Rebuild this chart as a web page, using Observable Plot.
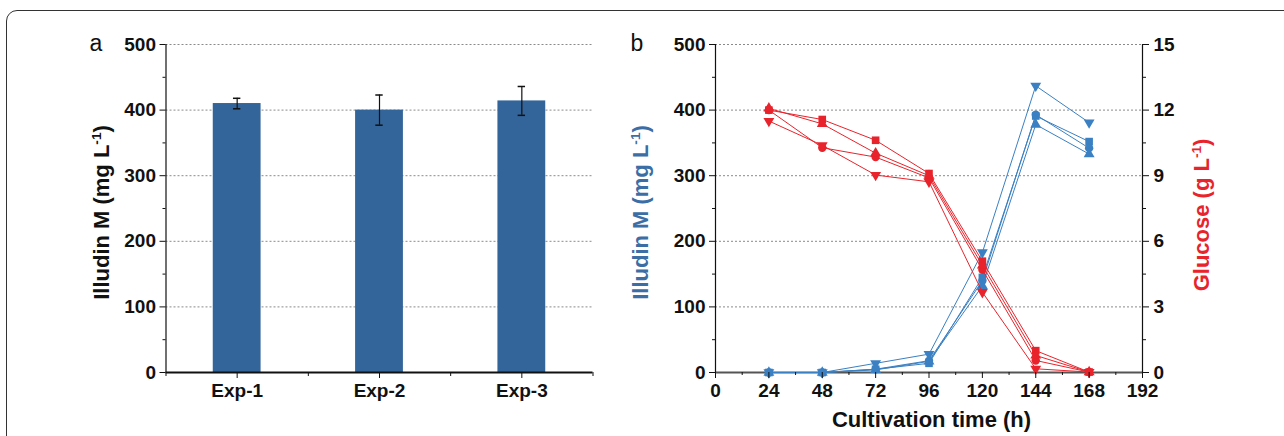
<!DOCTYPE html>
<html><head><meta charset="utf-8">
<script src="https://cdn.jsdelivr.net/npm/d3@7"></script>
<script src="https://cdn.jsdelivr.net/npm/@observablehq/plot@0.6"></script>
<style>
html,body{margin:0;padding:0;background:#fff;}
#wrap{position:relative;width:1284px;height:436px;overflow:hidden;background:#fff;}
#frame{position:absolute;left:6px;top:10px;width:1400px;height:600px;border:1.3px solid #333;border-radius:11px;}
.panel{position:absolute;top:0;}
</style></head><body>
<div id="wrap"><div id="frame"></div><div id="pa" class="panel" style="left:0px"></div><div id="pb" class="panel" style="left:620px"></div></div>
<script>
// ---------- Panel a data ----------
const expNames = ["Exp-1", "Exp-2", "Exp-3"];
const expMeans = [410, 400, 414];
const expErrors = [8, 23, 22];
const illudinTicks = [0, 100, 200, 300, 400, 500];
const illudinMinorTicks = [50, 150, 250, 350, 450];

// ---------- Panel b data ----------
const timesH = [24, 48, 72, 96, 120, 144, 168];
const timeTicks = [0, 24, 48, 72, 96, 120, 144, 168, 192];
const timeMinorTicks = [12, 36, 60, 84, 108, 132, 156, 180];
const glucoseTicks = [0, 3, 6, 9, 12, 15];
const replicateNames = ["square", "circle", "triangle", "triangleDown"];
const illudinSquare   = [0, 0, 5, 14, 145, 391, 352];
const illudinCircle   = [0, 0, 5, 18, 140, 393, 342];
const illudinTriUp    = [0, 0, 4, 17, 132, 378, 333];
const illudinTriDown  = [0, 0, 14, 28, 183, 437, 381];
const glucoseSquare   = [12.0, 11.57, 10.62, 9.10, 5.09, 1.0, 0.02];
const glucoseCircle   = [12.0, 10.28, 9.85, 8.90, 4.70, 0.55, 0.02];
const glucoseTriUp    = [12.08, 11.37, 10.03, 9.0, 4.90, 0.78, 0.02];
const glucoseTriDown  = [11.5, 10.39, 9.03, 8.72, 3.67, 0.17, 0.02];

// ---------- styles ----------
const FONT = '"Liberation Sans", Arial, Helvetica, sans-serif';
const BAR = "#33659a";
const BLUE = "#3a80c2";
const RED = "#e8232b";
const BLUE_TITLE = "#3c6ea6";
const GL = 500 / 15; // glucose -> left-axis units

const triDown = {
  draw(context, size) {
    const s = Math.sqrt(size) * 0.6824, t = s / 2, u = s * Math.sqrt(3) / 2;
    context.moveTo(0, s); context.lineTo(u, -t); context.lineTo(-u, -t); context.closePath();
  }
};
const triUp = {
  draw(context, size) {
    const s = Math.sqrt(size) * 0.6824, t = s / 2, u = s * Math.sqrt(3) / 2;
    context.moveTo(0, -s); context.lineTo(u, t); context.lineTo(-u, t); context.closePath();
  }
};
const symbolFor = {square: "square", circle: "circle", triangle: triUp, triangleDown: triDown};
const symbolR = {square: 4.3, circle: 4.2, triangle: 5.2, triangleDown: 5.2};

function addTitle(svg, x, y, main, sup, tail, color, size) {
  const t = d3.select(svg).append("text")
    .attr("transform", `translate(${x},${y}) rotate(-90)`)
    .attr("text-anchor", "middle")
    .attr("font-family", FONT).attr("font-weight", "bold").attr("font-size", size)
    .attr("fill", color);
  t.append("tspan").text(main);
  t.append("tspan").attr("dy", -8).attr("font-size", size * 0.62).text(sup);
  t.append("tspan").attr("dy", 8).text(tail);
}
function addLetter(svg, x, y, s) {
  d3.select(svg).append("text").attr("x", x).attr("y", y)
    .attr("font-family", FONT).attr("font-weight", "normal").attr("font-size", 23).attr("fill", "#111").text(s);
}

// ---------- Panel a ----------
const barRows = expNames.map((name, i) => ({pos: i + 1, name, mean: expMeans[i], err: expErrors[i]}));
const BAR_HALF = 0.168, CAP = 0.026;
const plotA = Plot.plot({
  width: 620, height: 436,
  marginLeft: 165.5, marginRight: 27.5, marginTop: 44, marginBottom: 64,
  style: {fontFamily: FONT, fontSize: "19px", fontWeight: "bold", color: "#111", background: "transparent", overflow: "visible"},
  x: {domain: [0.5, 3.5], axis: null},
  y: {domain: [0, 500], axis: null},
  marks: [
    Plot.gridY(illudinTicks.filter(d => d > 0), {stroke: "#8a8a8a", strokeOpacity: 1, strokeDasharray: "2,2", strokeWidth: 1}),
    Plot.rectY(barRows, {x1: d => d.pos - BAR_HALF, x2: d => d.pos + BAR_HALF, y: "mean", fill: BAR}),
    Plot.ruleX(barRows, {x: "pos", y1: d => d.mean - d.err, y2: d => d.mean + d.err, stroke: "#111", strokeWidth: 1.2}),
    Plot.ruleY(barRows, {y: d => d.mean + d.err, x1: d => d.pos - CAP, x2: d => d.pos + CAP, stroke: "#111", strokeWidth: 1.5}),
    Plot.ruleY(barRows, {y: d => d.mean - d.err, x1: d => d.pos - CAP, x2: d => d.pos + CAP, stroke: "#111", strokeWidth: 1.5}),
    Plot.axisY({ticks: illudinTicks, tickSize: 6, tickPadding: 4, label: null, stroke: "#111"}),
    Plot.axisY({ticks: illudinMinorTicks, tickSize: 3, tickFormat: () => "", label: null, stroke: "#111"}),
    Plot.axisX({ticks: [1, 2, 3], tickFormat: i => expNames[i - 1], tickSize: 6, tickPadding: 5, label: null, stroke: "#111"}),
    Plot.axisX({ticks: [0.5, 1.5, 2.5, 3.5], tickSize: 4, tickFormat: () => "", label: null, stroke: "#111"}),
    Plot.ruleX([0.5], {stroke: "#111", strokeWidth: 1.2}),
    Plot.ruleY([0], {stroke: "#111", strokeWidth: 2.2})
  ]
});
document.getElementById("pa").appendChild(plotA);
addTitle(plotA, 109, 212.5, "Illudin M (mg L", "-1", ")", "#111", 22);
addLetter(plotA, 96, 51, "a");

// ---------- Panel b ----------
const illSeries = [illudinSquare, illudinCircle, illudinTriUp, illudinTriDown];
const gluSeries = [glucoseSquare, glucoseCircle, glucoseTriUp, glucoseTriDown];
const illRows = [], gluRows = [];
replicateNames.forEach((rep, k) => {
  timesH.forEach((t, i) => {
    illRows.push({rep, t, v: illSeries[k][i]});
    gluRows.push({rep, t, g: gluSeries[k][i]});
  });
});
const dotMarks = (rows, yAcc, color) => replicateNames.map(rep =>
  Plot.dot(rows.filter(d => d.rep === rep), {x: "t", y: yAcc, symbol: symbolFor[rep], r: symbolR[rep], fill: color, stroke: "none"}));

const plotB = Plot.plot({
  width: 664, height: 436,
  marginLeft: 95, marginRight: 142, marginTop: 44, marginBottom: 64,
  style: {fontFamily: FONT, fontSize: "19px", fontWeight: "bold", color: "#111", background: "transparent", overflow: "visible"},
  x: {domain: [0, 192], axis: null},
  y: {domain: [0, 500], axis: null},
  marks: [
    Plot.gridY(illudinTicks.filter(d => d > 0), {stroke: "#8a8a8a", strokeOpacity: 1, strokeDasharray: "2,2", strokeWidth: 1}),
    Plot.ruleY([0], {stroke: "#555", strokeWidth: 2.2}),
    Plot.line(illRows, {x: "t", y: "v", z: "rep", stroke: BLUE, strokeWidth: 1}),
    ...dotMarks(illRows, "v", BLUE),
    Plot.line(gluRows, {x: "t", y: d => d.g * GL, z: "rep", stroke: RED, strokeWidth: 1}),
    ...dotMarks(gluRows, d => d.g * GL, RED),
    Plot.axisY({ticks: illudinTicks, tickSize: 6, tickPadding: 4, label: null, stroke: "#111"}),
    Plot.axisY({ticks: illudinMinorTicks, tickSize: 3, tickFormat: () => "", label: null, stroke: "#111"}),
    Plot.axisY({anchor: "right", ticks: glucoseTicks.map(g => g * GL), tickFormat: d => String(Math.round(d / GL)), tickSize: 6, tickPadding: 5, label: null, stroke: "#111"}),
    Plot.axisY({anchor: "right", ticks: illudinMinorTicks, tickSize: 3, tickFormat: () => "", label: null, stroke: "#111"}),
    Plot.axisX({ticks: timeTicks, tickSize: 6, tickPadding: 5, label: null, stroke: "#111"}),
    Plot.axisX({ticks: timeMinorTicks, tickSize: 3, tickFormat: () => "", label: null, stroke: "#111"}),
    Plot.ruleX([0], {stroke: "#111", strokeWidth: 1.2}),
    Plot.ruleX([192], {stroke: "#111", strokeWidth: 1.2})
  ]
});
document.getElementById("pb").appendChild(plotB);
addTitle(plotB, 28, 212.5, "Illudin M (mg L", "-1", ")", BLUE_TITLE, 22);
addTitle(plotB, 589, 215, "Glucose (g L", "-1", ")", RED, 22);
addLetter(plotB, 17, 51, "b");
d3.select(plotB).append("text")
  .attr("x", 95 + 427 / 2 + 3).attr("y", 427).attr("text-anchor", "middle")
  .attr("font-family", FONT).attr("font-weight", "bold").attr("font-size", 22).attr("fill", "#111")
  .text("Cultivation time (h)");
</script>
</body></html>
